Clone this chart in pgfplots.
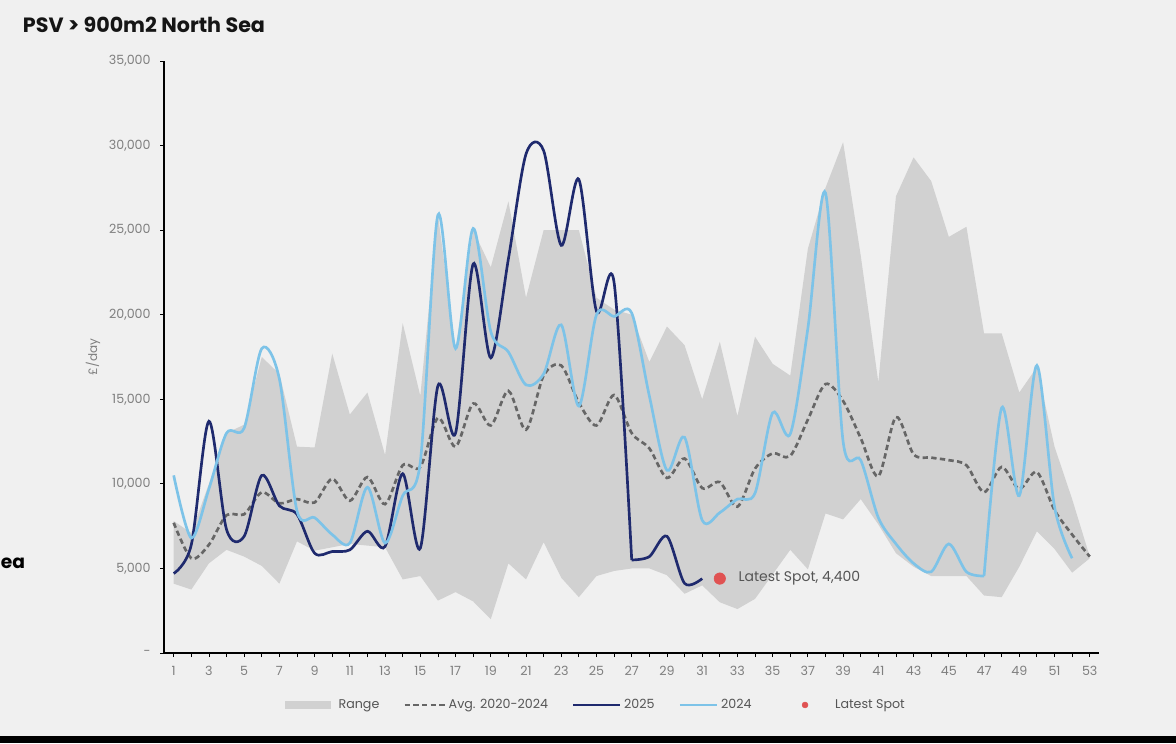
\documentclass[border=0pt]{standalone}
\usepackage{pgfplots}
\pgfplotsset{compat=1.18}
\usepackage{fontspec}
\setmainfont{Poppins}
\definecolor{bg}{HTML}{F0F0F0}
\definecolor{rangegray}{HTML}{D1D1D1}
\definecolor{navy}{HTML}{1F2A6E}
\definecolor{lblue}{HTML}{7DC3E8}
\definecolor{avgc}{HTML}{666666}
\definecolor{spotred}{HTML}{E05252}
\definecolor{tickgray}{HTML}{7F7F7F}
\definecolor{leggray}{HTML}{555555}
\definecolor{titlec}{HTML}{151515}
\begin{document}
\begin{tikzpicture}
\fill[bg] (0,0) rectangle (882pt,557.25pt);
\fill[black] (0,0) rectangle (882pt,5.25pt);
\node[anchor=base west, inner sep=0pt, font=\fontsize{15.5}{18}\selectfont\bfseries, text=titlec] at (17pt,532.5pt) {PSV > 900m2 North Sea};
\node[anchor=base west, inner sep=0pt, font=\fontsize{14}{16}\selectfont\bfseries, text=black] at (0.5pt,131.25pt) {ea};
\begin{axis}[
  at={(123pt,67.5pt)}, anchor=south west,
  scale only axis, width=700.9pt, height=444pt,
  xmin=0.45, xmax=53.5, ymin=0, ymax=35000,
  axis x line=bottom, axis y line=left,
  axis line style={-, black, line width=0.9pt},
  tick align=outside,
  major tick length=3pt, minor tick length=3pt,
  tick style={black, line width=0.6pt},
  xtick={1,3,...,53}, minor xtick={2,4,...,52},
  ytick={0,5000,...,35000},
  scaled y ticks=false,
  yticklabels={{-},{5,000},{10,000},{15,000},{20,000},{25,000},{30,000},{35,000}},
  /pgf/number format/assume math mode=true,
  xticklabel style={font=\fontsize{9.5}{10}\selectfont, text=tickgray, yshift=-3.5pt},
  yticklabel style={font=\fontsize{9.5}{10}\selectfont, text=tickgray, xshift=-3.5pt},
  ylabel={£/day},
  ylabel style={at={(axis description cs:-0.076,0.50)}, anchor=center, font=\fontsize{9}{10}\selectfont, text=tickgray},
  legend style={at={(0.1295,-0.0878)}, anchor=west, draw=none, fill=none, inner sep=0pt,
    font=\fontsize{9.5}{11}\selectfont, text=leggray,
    /tikz/every odd column/.append style={column sep=0pt},
    /tikz/every even column/.append style={column sep=16pt}},
  legend columns=5,
  legend cell align=left,
]
\addplot[fill=rangegray, draw=none,
  legend image code/.code={\path[draw=none,fill=none] (0pt,-3pt) rectangle (38pt,3pt); \fill[rangegray] (0pt,-3pt) rectangle (34pt,3pt);}]
  coordinates {
(1,7800)(2,7100)(3,10000)(4,13000)(5,13500)(6,17500)(7,16500)(8,12200)(9,12150)(10,17700)
(11,14100)(12,15400)(13,11700)(14,19500)(15,15200)(16,25900)(17,18000)(18,25000)(19,22800)(20,26700)
(21,21000)(22,25000)(23,25000)(24,25000)(25,21000)(26,20300)(27,20000)(28,17200)(29,19300)(30,18200)
(31,15000)(32,18400)(33,14000)(34,18700)(35,17100)(36,16400)(37,23900)(38,27500)(39,30200)(40,23500)
(41,16000)(42,27000)(43,29300)(44,27900)(45,24600)(46,25200)(47,18900)(48,18900)(49,15400)(50,16900)
(51,12200)(52,9100)(53,5700)
(53,5600)(52,4750)(51,6150)(50,7200)(49,5100)(48,3300)(47,3400)(46,4550)(45,4550)(44,4550)
(43,5100)(42,5900)(41,7600)(40,9100)(39,7900)(38,8250)(37,4950)(36,6100)(35,4650)(34,3200)
(33,2600)(32,3000)(31,4000)(30,3500)(29,4600)(28,5000)(27,5000)(26,4850)(25,4550)(24,3300)
(23,4450)(22,6550)(21,4350)(20,5300)(19,2000)(18,3050)(17,3600)(16,3100)(15,4550)(14,4350)
(13,6250)(12,6350)(11,6450)(10,6250)(9,6050)(8,6600)(7,4100)(6,5150)(5,5700)(4,6100)
(3,5300)(2,3750)(1,4100)};
\addlegendentry{Range}
\addplot[avgc, line width=2pt, dash pattern=on 4pt off 2.5pt, smooth, tension=0.5,
  legend image code/.code={\draw[avgc, line width=2pt, dash pattern=on 4pt off 2.5pt] (0pt,0pt) -- (30pt,0pt);}]
  coordinates {
(1,7700)(2,5600)(3,6400)(4,8150)(5,8200)(6,9500)(7,8850)(8,9100)(9,8900)(10,10300)
(11,9000)(12,10400)(13,8800)(14,11100)(15,11000)(16,13900)(17,12200)(18,14750)(19,13450)(20,15500)
(21,13200)(22,16400)(23,17000)(24,14800)(25,13450)(26,15250)(27,13000)(28,12100)(29,10350)(30,11500)
(31,9750)(32,10100)(33,8650)(34,10900)(35,11800)(36,11650)(37,13800)(38,15900)(39,14900)(40,12700)
(41,10450)(42,13950)(43,11750)(44,11550)(45,11400)(46,11100)(47,9500)(48,11000)(49,9700)(50,10700)
(51,8450)(52,7000)(53,5700)};
\addlegendentry{Avg. 2020-2024}
\addplot[navy, line width=2pt, smooth, tension=0.5,
  legend image code/.code={\draw[navy, line width=2pt] (0pt,0pt) -- (35pt,0pt);}]
  coordinates {
(1,4700)(2,6400)(3,13700)(4,7300)(5,6900)(6,10500)(7,8700)(8,8200)(9,5900)(10,6000)
(11,6100)(12,7200)(13,6300)(14,10600)(15,6200)(16,15800)(17,13000)(18,23000)(19,17450)(20,23300)
(21,29500)(22,29700)(23,24100)(24,28000)(25,20200)(26,21900)(27,5500)};
\addlegendentry{2025}
\addplot[navy, line width=2pt, smooth, tension=0.5, forget plot]
  coordinates {(27,5500)(28,5700)(29,6900)(30,4120)(31,4400)};
\addplot[lblue, line width=2pt, smooth, tension=0.5,
  legend image code/.code={\draw[lblue, line width=2pt] (0pt,0pt) -- (28pt,0pt);}]
  coordinates {
(1,10500)(2,6800)(3,9700)(4,13000)(5,13300)(6,18000)(7,16200)(8,8400)(9,8000)(10,7000)
(11,6500)(12,9800)(13,6500)(14,9300)(15,11300)(16,25900)(17,18000)(18,25100)(19,19000)(20,17800)
(21,15850)(22,16500)(23,19400)(24,14600)(25,20000)(26,19900)(27,20100)(28,15200)(29,10800)(30,12750)
(31,7850)(32,8300)(33,9100)(34,9450)(35,14200)(36,12950)(37,19200)(38,27200)(39,12500)(40,11400)
(41,8000)(42,6450)(43,5300)(44,4800)(45,6450)(46,4800)(47,4550)};
\addlegendentry{2024}
\addplot[lblue, line width=2pt, smooth, tension=0.5, forget plot]
  coordinates {(47,4550)(48,14500)(49,9300)(50,17000)(51,8650)(52,5600)};
\addplot[only marks, mark=*, mark size=4.3pt, color=spotred,
  legend image code/.code={\path[draw=none,fill=none] (0pt,-2pt) rectangle (42.5pt,2pt); \fill[spotred] (22pt,0pt) circle (2.2pt);}]
  coordinates {(32,4400)};
\addlegendentry{Latest Spot}
\node[anchor=west, inner sep=0pt, font=\fontsize{10.5}{12}\selectfont, text=leggray] at (axis cs:33.05,4400) {Latest Spot, 4,400};
\end{axis}
\pgfresetboundingbox
\path[use as bounding box] (0,0) rectangle (882pt,557.25pt);
\end{tikzpicture}
\end{document}
